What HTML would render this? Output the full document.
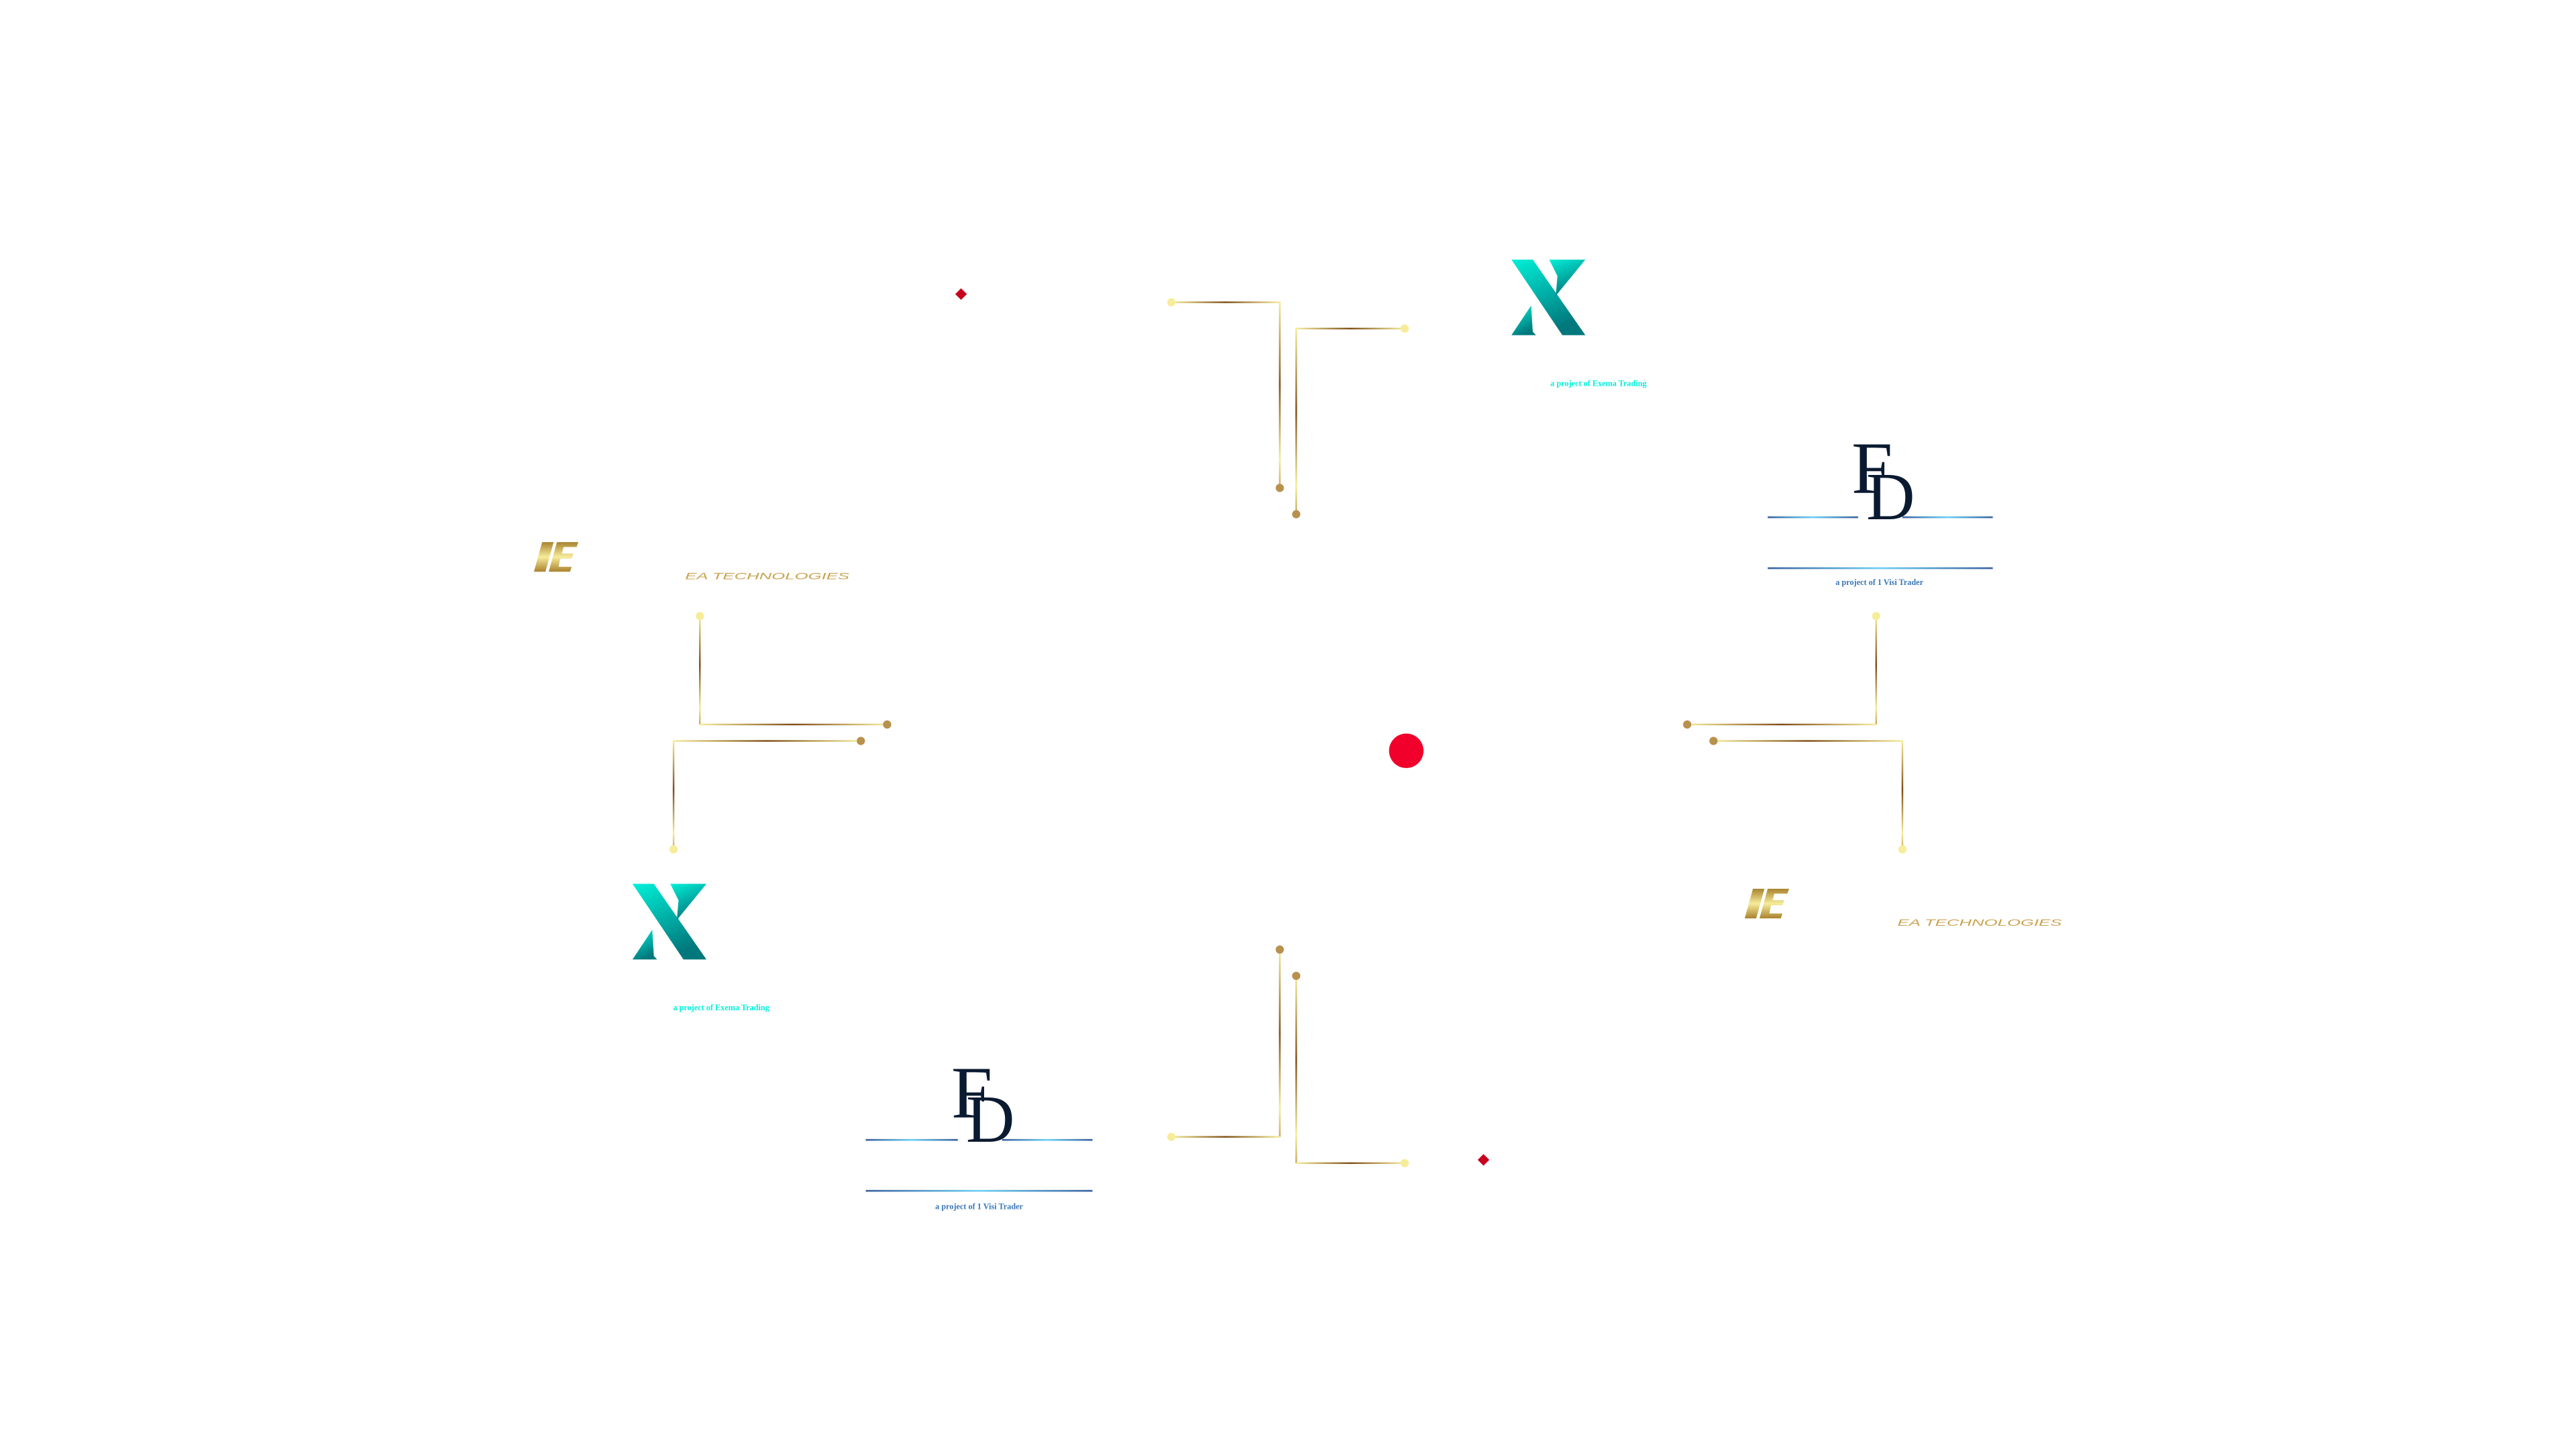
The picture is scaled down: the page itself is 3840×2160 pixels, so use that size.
<!DOCTYPE html>
<html><head><meta charset="utf-8"><style>
html,body{margin:0;padding:0;background:#fff;width:3840px;height:2160px;overflow:hidden}
svg{display:block}
</style></head><body>
<svg width="3840" height="2160" viewBox="0 0 1568 882" xmlns="http://www.w3.org/2000/svg">
<defs>
<linearGradient id="gh" x1="0" y1="0" x2="1" y2="0"><stop offset="0" stop-color="#f7ec9a"/><stop offset="0.5" stop-color="#7e4d14"/><stop offset="1" stop-color="#f7ec9a"/></linearGradient>
<linearGradient id="gv" x1="0" y1="0" x2="0" y2="1"><stop offset="0" stop-color="#f7ec9a"/><stop offset="0.45" stop-color="#7e4d14"/><stop offset="0.85" stop-color="#f7ec9a"/><stop offset="1" stop-color="#c9a55c"/></linearGradient>
<linearGradient id="gx" x1="0" y1="0" x2="0.4" y2="1"><stop offset="0" stop-color="#00f0d8"/><stop offset="1" stop-color="#00787c"/></linearGradient>
<linearGradient id="gg" x1="0" y1="0" x2="0" y2="1"><stop offset="0" stop-color="#a9822e"/><stop offset="0.5" stop-color="#f7ec9a"/><stop offset="1" stop-color="#a9822e"/></linearGradient>
<linearGradient id="gb" x1="0" y1="0" x2="1" y2="0"><stop offset="0" stop-color="#3a62a0"/><stop offset="0.5" stop-color="#6fd0f5"/><stop offset="1" stop-color="#3a62a0"/></linearGradient>
</defs>
<g>
<rect x="713" y="183.5" width="66" height="1" fill="url(#gh)"/>
<rect x="778.5" y="183.5" width="1" height="113" fill="url(#gv)"/>
<rect x="789" y="199.5" width="66" height="1" fill="url(#gh)"/>
<rect x="788.5" y="199.5" width="1" height="113" fill="url(#gv)"/>
<rect x="425.5" y="375" width="1" height="66" fill="url(#gv)"/>
<rect x="426" y="440.5" width="114" height="1" fill="url(#gh)"/>
<rect x="410" y="450.5" width="114" height="1" fill="url(#gh)"/>
<rect x="409.5" y="451" width="1" height="66" fill="url(#gv)"/>
<rect x="1141.5" y="375" width="1" height="66" fill="url(#gv)"/>
<rect x="1027" y="440.5" width="115" height="1" fill="url(#gh)"/>
<rect x="1043" y="450.5" width="115" height="1" fill="url(#gh)"/>
<rect x="1157.5" y="451" width="1" height="66" fill="url(#gv)"/>
<rect x="778.5" y="578" width="1" height="114" fill="url(#gv)"/>
<rect x="713" y="691.5" width="66" height="1" fill="url(#gh)"/>
<rect x="788.5" y="594" width="1" height="114" fill="url(#gv)"/>
<rect x="789" y="707.5" width="66" height="1" fill="url(#gh)"/>
</g>
<g fill="#f7ec9a">
<circle cx="713" cy="184" r="2.5"/><circle cx="855" cy="200" r="2.5"/>
<circle cx="426" cy="375" r="2.5"/><circle cx="410" cy="517" r="2.5"/>
<circle cx="1142" cy="375" r="2.5"/><circle cx="1158" cy="517" r="2.5"/>
<circle cx="713" cy="692" r="2.5"/><circle cx="855" cy="708" r="2.5"/>
</g>
<g fill="#b8914e">
<circle cx="779" cy="297" r="2.5"/><circle cx="789" cy="313" r="2.5"/>
<circle cx="540" cy="441" r="2.5"/><circle cx="524" cy="451" r="2.5"/>
<circle cx="1027" cy="441" r="2.5"/><circle cx="1043" cy="451" r="2.5"/>
<circle cx="779" cy="578" r="2.5"/><circle cx="789" cy="594" r="2.5"/>
</g>
<circle cx="856" cy="457" r="10.5" fill="#f0002a"/>
<rect x="582.5" y="176.5" width="5" height="5" fill="#c8001e" transform="rotate(45 585 179)"/>
<rect x="900.5" y="703.5" width="5" height="5" fill="#c8001e" transform="rotate(45 903 706)"/>
<g fill="url(#gx)">
<polygon points="920,158 933,158 965,204 951,204"/>
<polygon points="943,158 965,158 947,180 948,168"/>
<polygon points="920,204 935,204 933,202 932,186"/>
</g>
<g fill="url(#gx)" transform="translate(-535,380)">
<polygon points="920,158 933,158 965,204 951,204"/>
<polygon points="943,158 965,158 947,180 948,168"/>
<polygon points="920,204 935,204 933,202 932,186"/>
</g>
<g font-family="Liberation Serif, serif" font-weight="bold" font-size="5" fill="#00f0dc" text-anchor="middle">
<text x="973" y="235">a project of Exema Trading</text>
<text x="439" y="615">a project of Exema Trading</text>
</g>
<g font-family="Liberation Serif, serif" fill="#0a1a30">
<text x="1127" y="300" font-size="45">F</text>
<text x="1136" y="316" font-size="41">D</text>
<text x="579" y="680" font-size="45">F</text>
<text x="588" y="695" font-size="41">D</text>
</g>
<g fill="url(#gb)">
<rect x="1076" y="314.3" width="55" height="1.1"/><rect x="1158" y="314.3" width="55" height="1.1"/>
<rect x="1076" y="345.3" width="137" height="1.1"/>
<rect x="527" y="693.3" width="56" height="1.1"/><rect x="610" y="693.3" width="55" height="1.1"/>
<rect x="527" y="724.3" width="138" height="1.1"/>
</g>
<g font-family="Liberation Serif, serif" font-weight="bold" font-size="5" fill="#3a78b8" text-anchor="middle">
<text x="1144" y="356">a project of 1 Visi Trader</text>
<text x="596" y="736">a project of 1 Visi Trader</text>
</g>
<g fill="url(#gg)">
<polygon points="330,330 337,330 332,348 325,348"/>
<polygon points="339,330 352,330 351,333 343,333 342,337 349,337 348,340 341,340 340,345 348,345 347,348 334,348"/>
</g>
<g fill="url(#gg)" transform="translate(737,211)">
<polygon points="330,330 337,330 332,348 325,348"/>
<polygon points="339,330 352,330 351,333 343,333 342,337 349,337 348,340 341,340 340,345 348,345 347,348 334,348"/>
</g>
<g font-family="Liberation Sans, sans-serif" font-style="italic" font-size="5.5" fill="#c9a24e">
<text x="417" y="352.5" textLength="100" lengthAdjust="spacingAndGlyphs">EA TECHNOLOGIES</text>
<text x="1155" y="563.5" textLength="100" lengthAdjust="spacingAndGlyphs">EA TECHNOLOGIES</text>
</g>
</svg>
</body></html>
